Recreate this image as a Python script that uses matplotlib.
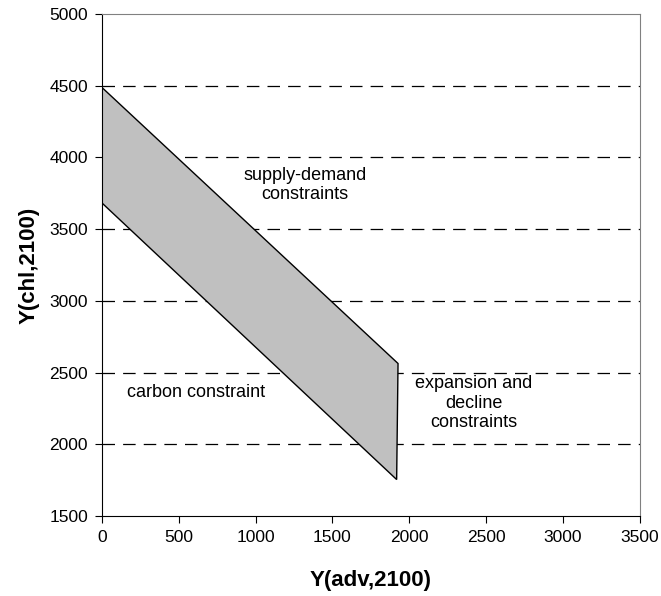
import matplotlib
matplotlib.use("Agg")
import matplotlib.pyplot as plt
from matplotlib.patches import Polygon

plt.rcParams['font.family'] = ['Liberation Sans', 'DejaVu Sans']

# feasible region corners (adv, chl)
region_adv = [0, 1927, 1918, 0]
region_chl = [4489, 2564, 1755, 3684]

x_ticks = [0, 500, 1000, 1500, 2000, 2500, 3000, 3500]
y_ticks = [1500, 2000, 2500, 3000, 3500, 4000, 4500, 5000]

fig = plt.figure(figsize=(6.61, 5.96), dpi=100)
ax = fig.add_axes([0.154, 0.134, 0.814, 0.8425])

for yv in y_ticks[1:-1]:
    ax.axhline(yv, color='black', linestyle=(0, (10, 6.5)), linewidth=0.9, zorder=1)

poly = Polygon(list(zip(region_adv, region_chl)), closed=True,
               facecolor='#c0c0c0', edgecolor='black', linewidth=1, zorder=2)
ax.add_patch(poly)

ax.set_xlim(0, 3500)
ax.set_ylim(1500, 5000)
ax.set_xticks(x_ticks)
ax.set_yticks(y_ticks)
ax.tick_params(direction='out', length=5, labelsize=12.5, pad=5)

ax.spines['top'].set_color('#808080')
ax.spines['right'].set_color('#808080')
ax.spines['left'].set_color('black')
ax.spines['bottom'].set_color('black')

ax.set_xlabel('Y(adv,2100)', fontsize=16, fontweight='bold', labelpad=18)
ax.set_ylabel('Y(chl,2100)', fontsize=16, fontweight='bold', labelpad=7)

ax.text(1320, 3807, 'supply-demand\nconstraints', ha='center', va='center', fontsize=13)
ax.text(611, 2364, 'carbon constraint', ha='center', va='center', fontsize=13)
ax.text(2419, 2287, 'expansion and\ndecline\nconstraints', ha='center', va='center', fontsize=13)

fig.savefig('out.png', dpi=100)
